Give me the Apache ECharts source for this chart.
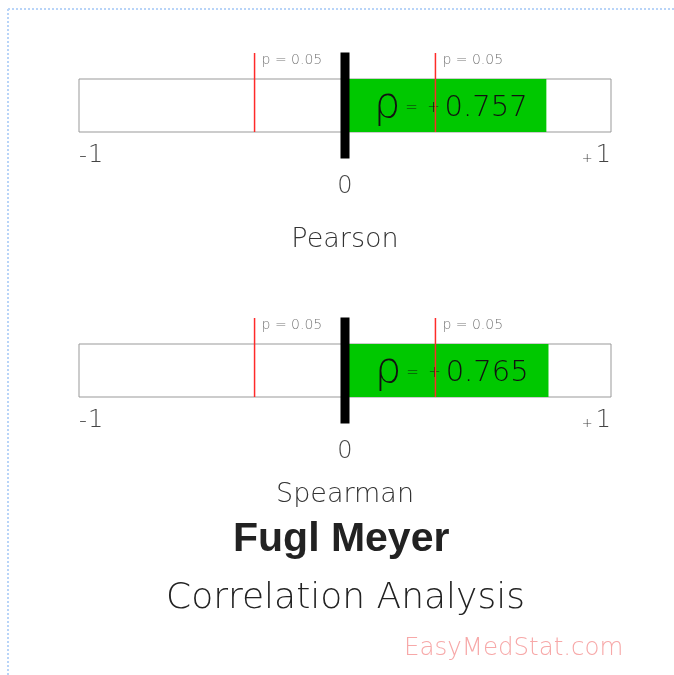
<!DOCTYPE html>
<html>
<head>
<meta charset="utf-8">
<script src="https://cdn.jsdelivr.net/npm/echarts@6/dist/echarts.min.js"></script>
<style>
  html, body { margin: 0; padding: 0; background: #fff; }
  #chart { width: 674px; height: 675px; }
</style>
</head>
<body>
<div id="chart"></div>
<script>
// data
var methods = ['Pearson', 'Spearman'];
var rhoValues = [0.757, 0.765];
var thresholds = [-0.34, 0.34];
var pLabel = 'p = 0.05';
var axisTicks = [-1, 0, 1];

var thinFont = 'DejaVu Sans';
var gridTops = [79, 344];
var nameGaps = [94, 84];

var chart = echarts.init(document.getElementById('chart'));

var grids = [], xAxes = [], yAxes = [], series = [];

methods.forEach(function (name, i) {
    grids.push({
        left: 79,
        width: 532,
        top: gridTops[i],
        height: 53,
        show: true,
        backgroundColor: '#fff',
        borderColor: '#999',
        borderWidth: 1
    });
    xAxes.push({
        gridIndex: i,
        type: 'value',
        min: axisTicks[0],
        max: axisTicks[axisTicks.length - 1],
        interval: 1,
        name: name,
        nameLocation: 'middle',
        nameGap: nameGaps[i],
        nameTextStyle: { fontFamily: thinFont, fontWeight: 200, fontSize: 27, color: '#333' },
        axisLine: { show: false },
        axisTick: { show: false },
        splitLine: { show: false },
        axisLabel: {
            margin: 12,
            alignMinLabel: 'left',
            alignMaxLabel: 'right',
            formatter: function (v) {
                if (v === 0) return '{z|0}';
                return (v < 0 ? '{s|-}' : '{p|+}') + '{d|' + Math.abs(v) + '}';
            },
            rich: {
                z: { fontFamily: thinFont, fontWeight: 200, fontSize: 24, color: '#444', padding: [31, 0, 0, 0] },
                s: { fontFamily: thinFont, fontWeight: 200, fontSize: 22, color: '#444', padding: [0, 1, 0, 0] },
                p: { fontFamily: thinFont, fontWeight: 200, fontSize: 13, color: '#444', padding: [6, 3, 0, 0] },
                d: { fontFamily: thinFont, fontWeight: 200, fontSize: 24, color: '#444' }
            }
        }
    });
    yAxes.push({
        gridIndex: i,
        type: 'category',
        data: [name],
        show: false
    });
    series.push({
        type: 'bar',
        xAxisIndex: i,
        yAxisIndex: i,
        data: [rhoValues[i]],
        barWidth: '100%',
        itemStyle: { color: '#00c800' },
        label: {
            show: true,
            position: 'inside',
            offset: [5, 1],
            formatter: function (p) {
                return '{r|ρ}{e| =  + }{v|' + p.value.toFixed(3) + '}';
            },
            rich: {
                r: { fontFamily: thinFont, fontWeight: 200, fontSize: 42, color: '#111' },
                e: { fontFamily: thinFont, fontWeight: 200, fontSize: 15, color: '#111', padding: [4, 0, 0, 0] },
                v: { fontFamily: thinFont, fontWeight: 200, fontSize: 29, color: '#111', padding: [4, 0, 0, 0] }
            }
        },
        z: 2
    });
    // zero line and p = 0.05 markers
    var marks = [[0, 0]];
    thresholds.forEach(function (t) { marks.push([t, 1]); });
    series.push({
        type: 'custom',
        xAxisIndex: i,
        yAxisIndex: i,
        clip: false,
        z: 5,
        data: marks,
        renderItem: function (params, api) {
            var x = api.value(0);
            var kind = api.value(1);
            var pt = api.coord([x, 0]);
            var band = api.size([0, 1])[1];
            if (kind === 0) {
                return {
                    type: 'rect',
                    shape: { x: pt[0] - 4.5, y: pt[1] - band, width: 9, height: band * 2 },
                    style: { fill: '#000' }
                };
            }
            return {
                type: 'group',
                children: [{
                    type: 'line',
                    shape: { x1: pt[0], y1: pt[1] - band + 0.5, x2: pt[0], y2: pt[1] + band / 2 },
                    style: { stroke: '#ff2a2a', lineWidth: 1.5 }
                }, {
                    type: 'text',
                    style: {
                        x: pt[0] + 7,
                        y: pt[1] - band + 8,
                        text: pLabel,
                        fontFamily: thinFont,
                        fontWeight: 200,
                        fontSize: 14,
                        fill: '#777',
                        verticalAlign: 'middle'
                    }
                }]
            };
        }
    });
});

var option = {
    backgroundColor: '#fff',
    animation: false,
    title: [{
        text: 'Fugl Meyer',
        left: 228,
        top: 514,
        textStyle: { fontFamily: 'Liberation Sans', fontWeight: 'bold', fontSize: 41, color: '#222' }
    }, {
        text: 'Correlation Analysis',
        left: 161,
        top: 576,
        textStyle: { fontFamily: thinFont, fontWeight: 200, fontSize: 36, color: '#222' }
    }, {
        text: 'EasyMedStat.com',
        left: 399,
        top: 631,
        textStyle: { fontFamily: thinFont, fontWeight: 200, fontSize: 24.5, color: '#f7a8a8' }
    }],
    graphic: [{
        type: 'line',
        shape: { x1: 8, y1: 9, x2: 674, y2: 9 },
        style: { stroke: '#b8d4f8', lineWidth: 2, lineDash: [2, 2] }
    }, {
        type: 'line',
        shape: { x1: 8, y1: 9, x2: 8, y2: 675 },
        style: { stroke: '#b8d4f8', lineWidth: 2, lineDash: [2, 2] }
    }],
    grid: grids,
    xAxis: xAxes,
    yAxis: yAxes,
    series: series
};

chart.setOption(option);
</script>
</body>
</html>
